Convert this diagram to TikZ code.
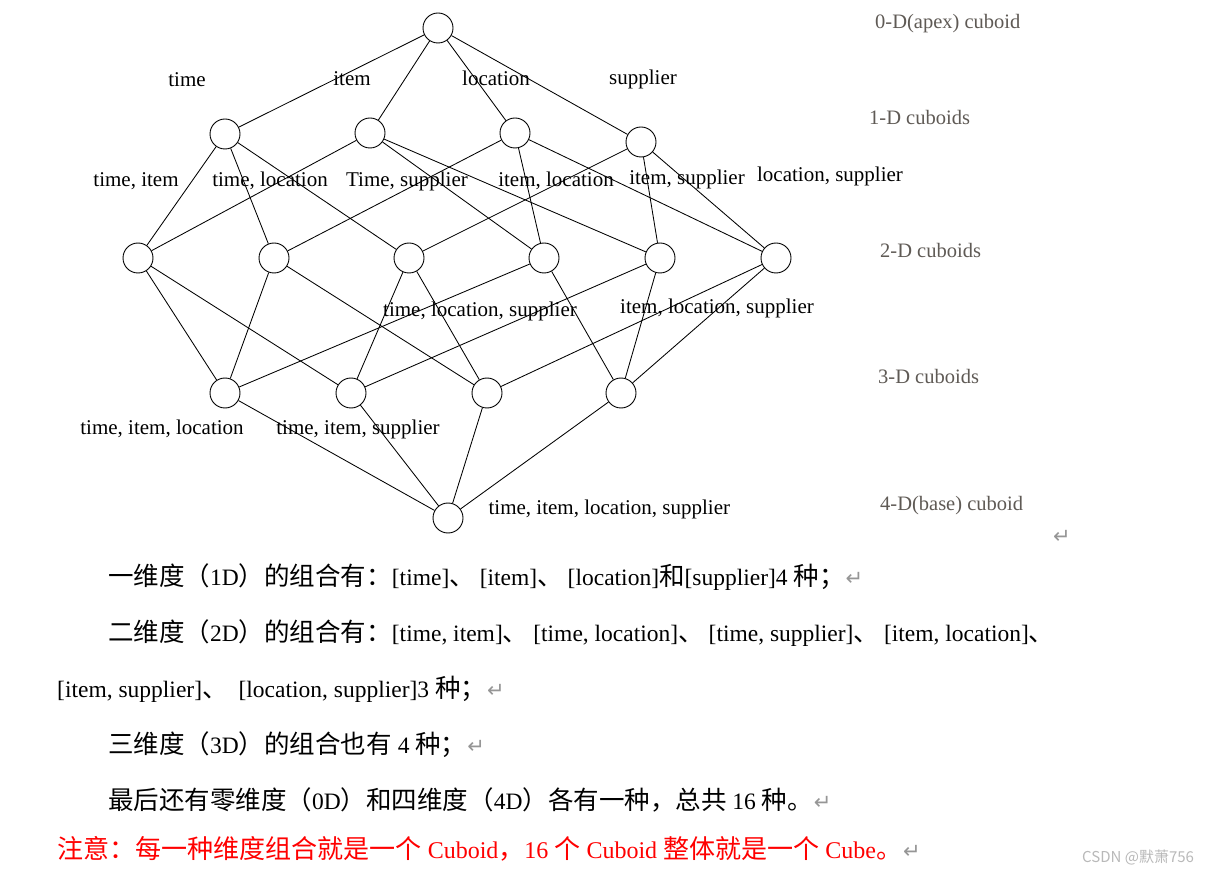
\documentclass[tikz,border=0pt]{standalone}
\usepackage{fontspec}
\setmainfont{Liberation Serif}
\newfontfamily\zhfont[Scale=1.085]{Noto Sans CJK SC}
\newfontfamily\wmfont{Noto Sans CJK SC}
\newfontfamily\symfont{DejaVu Sans}
\usetikzlibrary{positioning}

\definecolor{levelgray}{RGB}{95,90,85}
\definecolor{markgray}{RGB}{150,150,150}
\definecolor{wmgray}{RGB}{185,185,185}

\newcommand{\zhtxt}[1]{{\zhfont #1}}
\newcommand{\dunhao}{{\zhfont 、}\hspace{5pt}}
\newcommand{\retglyph}{{\symfont\color{markgray}\fontsize{21}{21}\selectfont ↵}}
\newcommand{\retmark}{\hspace{1pt}\retglyph}

\begin{document}
\begin{tikzpicture}[x=1pt,y=-1pt,
    cuboid/.style={draw,circle,fill=white,minimum size=30pt,inner sep=0pt,
        line width=0.9pt},
    link/.style={line width=0.85pt},
    dim label/.style={font=\fontsize{21}{25}\selectfont,inner sep=0pt,
        anchor=base},
    level label/.style={font=\fontsize{20.5}{25}\selectfont,text=levelgray,
        inner sep=0pt,anchor=base west},
    body text/.style={font=\fontsize{23.5}{26}\selectfont,inner sep=0pt,
        anchor=base west}
]
    \useasboundingbox[fill=white] (0,0) rectangle (1208,874);

    % lattice of cuboids
    \node[cuboid] (apex) at (438,28) {};
    \node[cuboid] (t) at (225,134) {};
    \node[cuboid] (i) at (370,133) {};
    \node[cuboid] (l) at (515,133) {};
    \node[cuboid] (s) at (641,142) {};
    \foreach \n/\x in {ti/138,tl/274,ts/409,il/544,is/660,ls/776}
        \node[cuboid] (\n) at (\x,258) {};
    \foreach \n/\x in {til/225,tis/351,tls/487,ils/621}
        \node[cuboid] (\n) at (\x,393) {};
    \node[cuboid] (base) at (448,518) {};

    \foreach \a/\b in {apex/t,apex/i,apex/l,apex/s,
        t/ti,t/tl,t/ts,i/ti,i/il,i/is,l/tl,l/il,l/ls,s/ts,s/is,s/ls,
        ti/til,ti/tis,tl/til,tl/tls,ts/tis,ts/tls,
        il/til,il/ils,is/tis,is/ils,ls/tls,ls/ils,
        til/base,tis/base,tls/base,ils/base}
        \draw[link] (\a) -- (\b);

    % dimension names
    \node[dim label] (lab-t) at (187,87) {time};
    \node[dim label] (lab-i) at (352,86) {item};
    \node[dim label] (lab-l) at (496,86) {location};
    \node[dim label] (lab-s) at (643,85) {supplier};
    \node[dim label] (lab-ti) at (136,187) {time, item};
    \node[dim label] (lab-tl) at (270,187) {time, location};
    \node[dim label] (lab-ts) at (407,187) {Time, supplier};
    \node[dim label] (lab-il) at (556,187) {item, location};
    \node[dim label] (lab-is) at (687,185) {item, supplier};
    \node[dim label] (lab-ls) at (830,182) {location, supplier};
    \node[dim label] (lab-tls) at (480,317) {time, location, supplier};
    \node[dim label] (lab-ils) at (717,314) {item, location, supplier};
    \node[dim label] (lab-til) at (162,435) {time, item, location};
    \node[dim label] (lab-tis) at (358,435) {time, item, supplier};
    \node[dim label,right=25pt of base,yshift=9pt]
        (lab-base) {time, item, location, supplier};

    % level names
    \node[level label] (lvl-0) at (875,29) {0-D(apex) cuboid};
    \node[level label] (lvl-1) at (869,125) {1-D cuboids};
    \node[level label] (lvl-2) at (880,258) {2-D cuboids};
    \node[level label] (lvl-3) at (878,384) {3-D cuboids};
    \node[level label] (lvl-4) at (880,510) {4-D(base) cuboid};
    \node[inner sep=0pt] (mark-top) at (1062,537) {\retglyph};

    % explanation
    \node[body text] (line-1) at (108,585) {\zhtxt{一维度（}1D\zhtxt{）的组合有：}[time]\dunhao[item]\dunhao[location]\zhtxt{和}[supplier]4 \zhtxt{种；}\retmark};
    \node[body text] (line-2) at (108,641) {\zhtxt{二维度（}2D\zhtxt{）的组合有：}[time, item]\dunhao[time, location]\dunhao[time, supplier]\dunhao[item, location]\zhtxt{、}};
    \node[body text] (line-3) at (57,697) {[item, supplier]\dunhao\hspace{6pt}[location, supplier]3 \zhtxt{种；}\retmark};
    \node[body text] (line-4) at (108,753) {\zhtxt{三维度（}3D\zhtxt{）的组合也有} 4 \zhtxt{种；}\retmark};
    \node[body text] (line-5) at (108,809) {\zhtxt{最后还有零维度（}0D\zhtxt{）和四维度（}4D\zhtxt{）各有一种，总共} 16 \zhtxt{种。}\retmark};
    \node[body text,text=red,font=\fontsize{24}{27}\selectfont] (line-6) at (57,858) {\zhtxt{注意：每一种维度组合就是一个} Cuboid\zhtxt{，}16 \zhtxt{个} Cuboid \zhtxt{整体就是一个} Cube\zhtxt{。}\retmark};

    \node[font=\wmfont\fontsize{15}{18}\selectfont,text=wmgray,inner sep=0pt,
        anchor=base west] (watermark) at (1082,862) {CSDN @默萧756};
\end{tikzpicture}
\end{document}
